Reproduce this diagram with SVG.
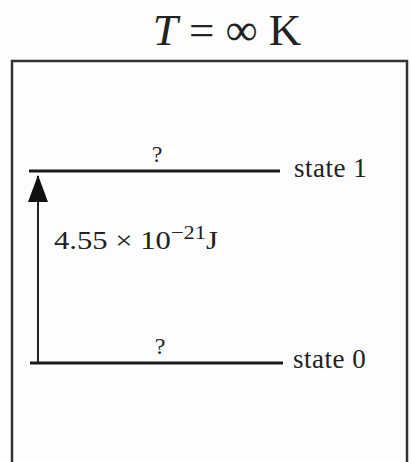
<svg xmlns="http://www.w3.org/2000/svg" width="411" height="462" viewBox="0 0 411 462">
<style>
.t{font-family:"Liberation Serif","Times New Roman",serif;fill:#222}
.lv{stroke:#1a1a1a;stroke-width:3;fill:none}
</style>
<defs>
<marker id="ah" markerWidth="28" markerHeight="22" refX="27" refY="11" orient="auto" markerUnits="userSpaceOnUse" viewBox="0 0 28 22">
<path d="M28,11 L1,1 L1,21 Z" fill="#111"/>
</marker>
</defs>
<rect width="411" height="462" fill="#fdfdfd"/>
<g id="title"><text class="t" x="227" y="45" font-size="45" text-anchor="middle"><tspan font-style="italic">T</tspan> = ∞ K</text></g>
<g id="frame"><path d="M12,470 V61 H407 V470" stroke="#333" stroke-width="2.5" fill="none"/></g>
<g id="state1">
<line class="lv" x1="29" y1="171" x2="280" y2="171"/>
<text class="t" x="157" y="162" font-size="24" text-anchor="middle">?</text>
<text class="t" x="294" y="177" font-size="27" letter-spacing="0.5">state 1</text>
</g>
<g id="state0">
<line class="lv" x1="30" y1="363" x2="283" y2="363"/>
<text class="t" x="160" y="354" font-size="24" text-anchor="middle">?</text>
<text class="t" x="293" y="368" font-size="27" letter-spacing="0.5">state 0</text>
</g>
<g id="connectors">
<line x1="38" y1="362" x2="38" y2="176" stroke="#222" stroke-width="2" marker-end="url(#ah)"/>
</g>
<g id="energy"><text class="t" transform="translate(54,249) scale(1.18,1)" font-size="26">4.55 × 10<tspan dy="-10" font-size="19">−21</tspan><tspan dy="10">J</tspan></text></g>
</svg>
